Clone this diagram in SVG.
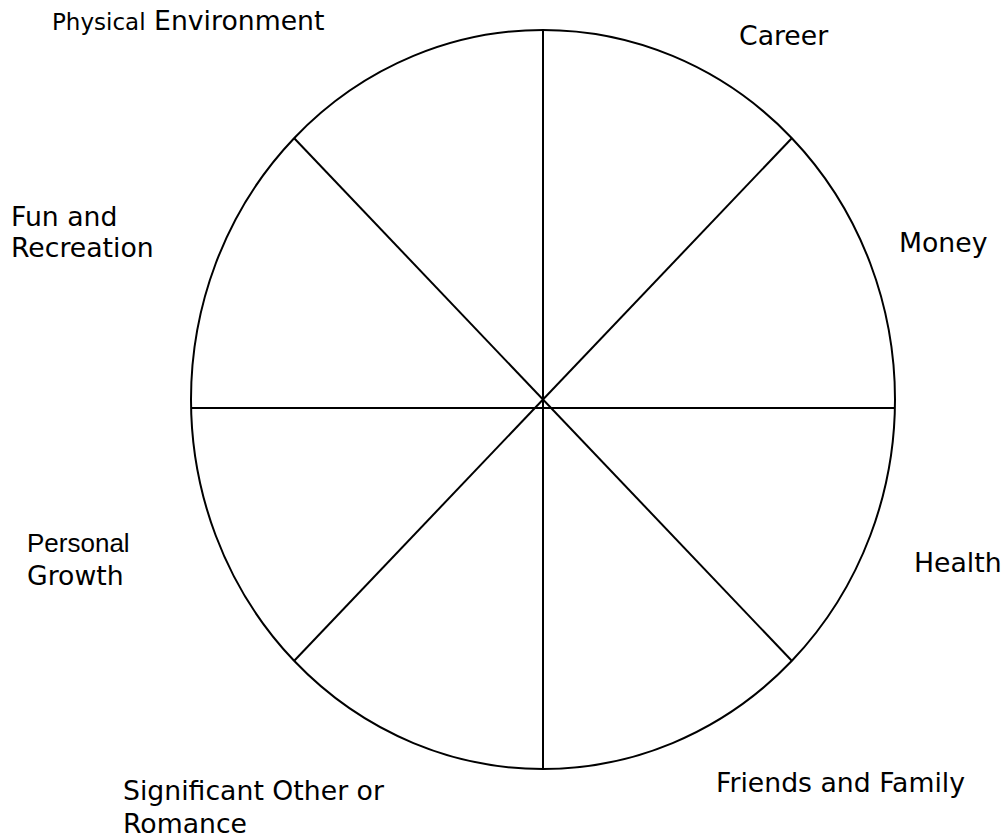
<svg xmlns="http://www.w3.org/2000/svg" width="1005" height="838" viewBox="0 0 1005 838">
<style>
.ln{stroke:#000;stroke-width:2;fill:none}
.v{font-family:"DejaVu Sans",Verdana,sans-serif;font-size:26.7px;fill:#000}
.a{font-family:"Liberation Sans",Arial,sans-serif;font-size:26px;fill:#000}
</style>
<rect width="1005" height="838" fill="#fff"/>
<g id="wheel">
<ellipse class="ln" cx="543" cy="399.5" rx="352" ry="369.5"/>
</g>
<g id="connectors">
<line class="ln" x1="543" y1="30" x2="543" y2="769"/>
<line class="ln" x1="191" y1="408" x2="895" y2="408"/>
<line class="ln" x1="294" y1="138" x2="792" y2="661"/>
<line class="ln" x1="792" y1="138" x2="294" y2="661"/>
</g>
<g id="physical"><text class="v" x="52" y="30"><tspan font-size="23px">Physical</tspan> Environment</text></g>
<g id="career"><text class="v" x="739" y="45">Career</text></g>
<g id="money"><text class="v" x="899" y="252">Money</text></g>
<g id="health"><text class="v" x="914" y="572">Health</text></g>
<g id="friends"><text class="v" x="716" y="792">Friends and Family</text></g>
<g id="significant"><text class="v" x="123" y="800">Significant Other or</text><text class="v" x="123" y="833">Romance</text></g>
<g id="personal"><text class="a" x="27" y="552">Personal</text><text class="v" x="27" y="585">Growth</text></g>
<g id="fun"><text class="v" x="11" y="226">Fun and</text><text class="v" x="11" y="257">Recreation</text></g>
</svg>
